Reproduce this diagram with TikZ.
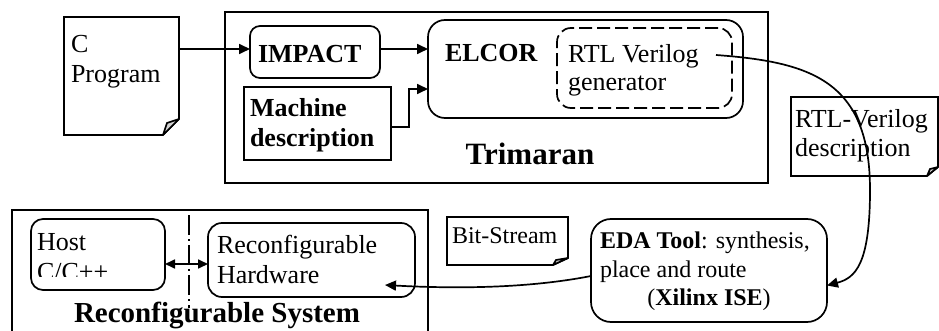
\documentclass[tikz,border=0pt]{standalone}
\usepackage{fontspec}
\setmainfont{Liberation Serif}
\usetikzlibrary{arrows.meta,calc}
\begin{document}
\begin{tikzpicture}[x=1pt,y=-1pt,
  every node/.style={inner sep=0pt, outer sep=0pt},
  lw/.style={line width=1.7pt},
  txt/.style={anchor=base west, font=\fontsize{26}{30}\selectfont},
  btxt/.style={anchor=base west, font=\fontsize{26}{30}\selectfont\bfseries},
  stxt/.style={anchor=base west, font=\fontsize{24}{28}\selectfont},
  arr/.style={lw, -{Triangle[length=11pt,width=10pt]}},
  box/.style={draw, lw},
  ghost/.style={draw=none},
  fold/.style={lw, fill=gray!35, line join=round},
]
\useasboundingbox (0,0) rectangle (939,331);

% --- document shapes (drawn) ---
\draw[lw, line join=miter] (64,17) -- (179,17) -- (179,119) -- (163,135) -- (64,135) -- cycle;
\draw[fold] (179,119) -- (167,123) -- (163,135) -- cycle;
\node[ghost, minimum width=115pt, minimum height=118pt] (cp) at (121.5,76) {};

\draw[lw] (791,97) -- (938,97) -- (938,167) -- (927,176) -- (791,176) -- cycle;
\draw[fold] (938,167) -- (930,169) -- (927,176) -- cycle;
\node[ghost, minimum width=147pt, minimum height=79pt] (rtld) at (864.5,136.5) {};

\draw[lw] (447,217) -- (568,217) -- (568,258) -- (553,265) -- (447,265) -- cycle;
\draw[fold] (568,258) -- (556,260) -- (553,265) -- cycle;
\node[ghost, minimum width=121pt, minimum height=48pt] (bits) at (507.5,241) {};

% --- boxes ---
\node[box, minimum width=543pt, minimum height=171pt] (trim) at (496.5,97.5) {};
\node[box, rounded corners=10pt, minimum width=130pt, minimum height=52pt] (impact) at (315,52) {};
\node[box, minimum width=147pt, minimum height=73pt] (machine) at (317.5,123.5) {};
\node[box, rounded corners=17pt, minimum width=315pt, minimum height=98pt] (elcor) at (585.5,69) {};
\node[box, dash pattern=on 13pt off 5pt, rounded corners=14pt, minimum width=175pt, minimum height=80pt] (rtlgen) at (644.5,68) {};
\node[box, rounded corners=20pt, minimum width=236pt, minimum height=103pt] (eda) at (709,270.5) {};
\node[box, minimum width=416pt, minimum height=135pt] (recsys) at (220,277.5) {};
\node[box, rounded corners=12pt, minimum width=134pt, minimum height=71pt] (host) at (98,254.5) {};
\node[box, rounded corners=14pt, minimum width=207pt, minimum height=74pt] (hw) at (311.5,260) {};

% --- texts ---
\node[txt] (tc) at (71,53) {C};
\node[txt] (tprog) at (71,83) {Program};
\node[btxt] (timpact) at (258,63) {IMPACT};
\node[btxt] (tmach) at (250,117) {Machine};
\node[btxt] (tdesc) at (250,147) {description};
\node[btxt] (telcor) at (445,62) {ELCOR};
\node[txt] (trtl) at (568,63) {RTL Verilog};
\node[txt] (tgen) at (568,91) {generator};
\node[anchor=base, font=\fontsize{31}{34}\selectfont\bfseries] (ttrim) at (530,165) {Trimaran};
\node[txt] (trtld1) at (795,128) {RTL-Verilog};
\node[txt] (trtld2) at (795,157) {description};
\node[stxt] (tbits) at (452,243) {Bit-Stream};
\node[stxt] (teda1) at (600,248) {\textbf{EDA Tool}: synthesis,};
\node[stxt] (teda2) at (600,277) {place and route};
\node[anchor=base, font=\fontsize{24}{28}\selectfont] (teda3) at (709,305) {(\textbf{Xilinx ISE})};
\node[txt] (thost) at (37,250) {Host};
\begin{scope}
\clip (31,219) rectangle (165,276);
\node[txt] (tcpp) at (37,280) {C/C++};
\end{scope}
\node[txt] (thw1) at (217,253) {Reconfigurable};
\node[txt] (thw2) at (217,283) {Hardware};
\node[anchor=base, font=\fontsize{29}{32}\selectfont\bfseries] (trs) at (217,322) {Reconfigurable System};

% --- connectors ---
\coordinate (a1) at ([yshift=3pt]impact.east);
\draw[arr] (a1 -| cp.east) -- (a1 -| impact.west);
\draw[arr] (a1) -- (a1 -| elcor.west);
\coordinate (m1) at ([yshift=-3.5pt]machine.east);
\coordinate (e1) at ([yshift=-20pt]elcor.west);
\draw[arr] (m1) -- (409,127) |- (e1);

\coordinate (rs) at (716,55);
\coordinate (ein) at ([yshift=-15pt]eda.east);
\draw[arr] (rs) .. controls (810,62) and (870,80) .. (870,190)
  .. controls (870,265) and (855,278) .. (ein);

\coordinate (eout) at ([yshift=-5.5pt]eda.west);
\coordinate (hin) at ([xshift=-30pt,yshift=-25pt]hw.east);
\draw[arr] (eout) .. controls (520,290) and (440,288) .. (hin);

\coordinate (d1) at ([yshift=-4pt]hw.west);
\draw[lw, {Triangle[length=10pt,width=9pt]}-{Triangle[length=10pt,width=9pt]}] (d1 -| host.east) -- (d1);
\draw[line width=1.4pt, dash pattern=on 20pt off 4pt on 2pt off 4pt] (189,215) -- (189,308);
\end{tikzpicture}
\end{document}
